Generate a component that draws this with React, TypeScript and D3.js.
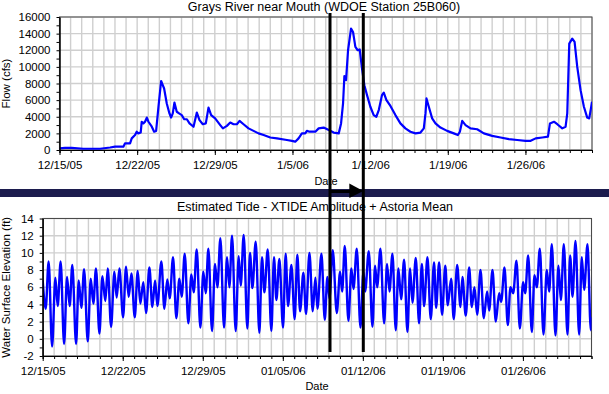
import React, { useEffect, useRef } from "react";
import * as d3 from "d3";

// ---------- data ----------
const startDate = new Date(2005, 11, 15);
const endDate = new Date(2006, 1, 1);

// Grays River flow (cfs); day offsets from 12/15/05
const flowDays = [
  0.0, 0.5, 1.1, 2.15, 3.66, 4.56, 5.01, 5.76, 5.91, 6.36, 6.51, 6.81, 6.96, 7.11, 7.32, 7.41, 7.56, 7.71,
  7.87, 8.02, 8.32, 8.53, 8.71, 8.92, 9.16, 9.31, 9.43, 9.67, 9.91, 10.06, 10.21, 10.36, 10.57, 10.78,
  11.02, 11.24, 11.48, 11.72, 12.08, 12.38, 12.62, 12.92, 13.19, 13.43, 13.67, 14.03, 14.49, 14.73,
  15.09, 15.39, 15.69, 15.99, 16.23, 16.59, 17.04, 17.49, 17.94, 18.4, 19.0, 19.6, 20.5, 20.95, 21.25,
  21.55, 21.85, 22.15, 22.3, 22.55, 23.06, 23.36, 23.81, 24.27, 24.71, 25.17, 25.38, 25.56, 25.68,
  25.83, 26.01, 26.28, 26.46, 26.67, 26.88, 27.06, 27.27, 27.48, 27.72, 28.02, 28.32, 28.56, 28.78,
  29.07, 29.23, 29.47, 29.83, 30.28, 30.73, 31.18, 31.63, 32.09, 32.54, 32.84, 32.99, 33.08, 33.29,
  33.59, 33.89, 34.34, 34.94, 35.54, 35.91, 36.09, 36.3, 36.6, 37.05, 37.65, 38.25, 39.0, 39.76,
  40.51, 41.26, 42.01, 42.47, 42.92, 43.52, 44.03, 44.21, 44.57, 44.87, 45.32, 45.62, 45.77, 45.95,
  46.22, 46.43, 46.67, 46.97, 47.27, 47.57, 47.75, 47.93, 48.0,
];
const flowValues = [
  200, 250, 250, 150, 150, 300, 400, 400, 800, 800, 1400, 1800, 2200, 2000, 2100, 3400, 3200, 3400,
  3900, 3400, 2800, 2200, 2300, 5200, 8300, 7800, 7400, 5600, 4400, 3900, 4400, 5700, 4600, 4400,
  4200, 3700, 3700, 3200, 2800, 4500, 3600, 3100, 3200, 5100, 4200, 3800, 3000, 2600,
  2900, 3300, 3100, 3100, 3500, 3100, 2600, 2300, 2000, 1800, 1500, 1400, 1200, 1100, 1000,
  1400, 2000, 2000, 2300, 2200, 2200, 2600, 2700, 2400, 2100, 2000, 3200, 5600, 8900,
  8400, 12000, 14600, 14200, 12400, 12000, 12100, 9800, 7800, 6600, 5200, 4200, 4000, 4800,
  6600, 6900, 6000, 5300, 4200, 3200, 2600, 2200, 2000, 2100, 2600, 4400, 6200, 5200,
  3800, 3200, 2700, 2300, 2000, 1800, 2200, 3500, 3000, 2600, 2500, 2000, 1700, 1500,
  1300, 1200, 1100, 1100, 1400, 1500, 1600, 3200, 3400, 3100, 2600, 2800, 4400, 12800,
  13400, 13000, 10000, 7200, 5200, 3900, 3800, 5200, 5800,
];

// Estimated tide (ft): high/low water turning points, day offsets from 12/15/05
const tideDays = [
  0.0, 0.26, 0.52, 0.82, 1.11, 1.31, 1.57, 1.87, 2.13, 2.36, 2.59, 2.92, 3.15, 3.38, 3.62, 3.94,
  4.2, 4.43, 4.66, 4.96, 5.22, 5.48, 5.69, 5.98, 6.27, 6.47, 6.71, 7.03, 7.29, 7.52, 7.76, 8.05,
  8.31, 8.54, 8.8, 9.04, 9.33, 9.59, 9.83, 10.03, 10.38, 10.64, 10.9, 11.11, 11.4, 11.69, 11.95, 12.16,
  12.42, 12.74, 13.0, 13.21, 13.47, 13.79, 14.05, 14.26, 14.49, 14.81, 15.07, 15.28, 15.54, 15.86,
  16.12, 16.33, 16.56, 16.88, 17.14, 17.32, 17.58, 17.9, 18.13, 18.34, 18.63, 18.95, 19.18, 19.39,
  19.68, 20.0, 20.23, 20.44, 20.7, 21.02, 21.25, 21.46, 21.75, 22.04, 22.27, 22.51, 22.8, 23.03,
  23.33, 23.62, 23.85, 24.03, 24.38, 24.67, 24.9, 25.08, 25.37, 25.72, 26.01, 26.19, 26.42, 26.74,
  27.0, 27.18, 27.47, 27.79, 28.05, 28.2, 28.52, 28.84, 29.07, 29.25, 29.54, 29.86, 30.12, 30.33,
  30.59, 30.88, 31.11, 31.35, 31.61, 31.9, 32.13, 32.34, 32.63, 32.92, 33.16, 33.36, 33.65, 33.94,
  34.23, 34.41, 34.67, 34.93, 35.21, 35.43, 35.72, 35.95, 36.25, 36.54, 36.71, 37.0, 37.3, 37.53,
  37.76, 38.0, 38.29, 38.58, 38.87, 39.05, 39.34, 39.63, 39.92, 40.1, 40.39, 40.68, 40.91, 41.15,
  41.44, 41.73, 42.02, 42.2, 42.46, 42.78, 43.01, 43.22, 43.48, 43.8, 44.09, 44.3, 44.53, 44.85,
  45.11, 45.32, 45.58, 45.9, 46.13, 46.34, 46.6, 46.92, 47.15, 47.36, 47.65, 47.94, 48.0,
];
const tideValues = [
  6.8, 3.5, 9.0, -0.9, 7.1, 3.8, 9.0, -0.6, 7.2, 3.8, 8.6, -0.6, 6.8, 3.6, 8.1, -0.3,
  7.0, 4.1, 8.2, 0.6, 7.3, 4.4, 8.2, 1.4, 7.8, 4.8, 8.2, 2.5, 8.4, 4.9, 7.6, 2.5,
  7.9, 4.1, 6.6, 3.0, 8.3, 3.7, 6.8, 3.8, 9.0, 3.5, 6.9, 4.7, 9.5, 2.4, 7.0, 4.9,
  9.9, 1.8, 7.5, 5.4, 10.4, 1.3, 7.8, 5.3, 10.5, 0.9, 8.7, 6.0, 11.7, 1.3,
  9.5, 6.0, 12.0, 0.9, 9.6, 6.2, 12.1, 1.2, 10.0, 5.9, 11.3, 0.7, 9.5, 5.4,
  10.4, 0.9, 9.5, 4.5, 9.3, 1.3, 9.9, 3.8, 8.6, 2.3, 9.8, 3.2, 7.7, 2.9,
  10.0, 3.2, 7.1, 3.5, 9.9, 2.2, 7.2, 4.7, 10.3, 3.0, 7.8, 5.5, 10.8, 2.1,
  8.2, 5.8, 10.5, 1.3, 7.8, 5.5, 10.2, 1.4, 8.5, 6.0, 10.5, 1.8, 8.7, 5.5,
  9.9, 1.0, 8.2, 4.6, 9.2, 0.8, 8.2, 4.2, 9.4, 1.8, 8.7, 3.8, 9.5, 2.3,
  8.9, 3.6, 8.9, 2.8, 8.5, 3.9, 7.0, 2.3, 8.6, 3.7, 7.2, 2.7, 8.3, 3.7,
  6.0, 2.8, 8.0, 2.4, 5.5, 3.3, 8.0, 2.0, 5.3, 4.3, 8.3, 1.6, 6.0, 5.3,
  9.1, 1.2, 6.6, 5.3, 9.7, 0.8, 7.4, 6.0, 10.5, 0.5, 8.0, 5.5, 11.0, 0.4,
  8.5, 4.5, 11.0, 0.5, 9.7, 4.9, 11.4, 0.5, 9.5, 5.7, 11.0, 1.0, 2.5,
];

const topTickLabels = ["12/15/05", "12/22/05", "12/29/05", "1/5/06", "1/12/06", "1/19/06", "1/26/06"];
const bottomTickLabels = ["12/15/05", "12/22/05", "12/29/05", "01/05/06", "01/12/06", "01/19/06", "01/26/06"];
const flowTicks = [0, 2000, 4000, 6000, 8000, 10000, 12000, 14000, 16000];
const flowMinorTicks = [1000, 3000, 5000, 7000, 9000, 11000, 13000, 15000];
const tideTicks = [-2, 0, 2, 4, 6, 8, 10, 12, 14];
const tideMinorTicks = [-1, 1, 3, 5, 7, 9, 11, 13];

// ---------- drawing ----------
const W = 609;
const H = 394;
const FONT = "'Liberation Sans', Arial, Helvetica, sans-serif";

const dayToDate = (d: number) => new Date(startDate.getTime() + d * 86400000);

type Panel = {
  id: string;
  left: number; right: number; top: number; bottom: number;
  yDomain: [number, number];
  yTicks: number[]; yMinor: number[];
  xLabels: string[];
  days: number[]; values: number[];
  title: string; titleX: number; titleY: number;
  yLabel: string; yLabelX: number;
  xLabel: string; xLabelX: number; xLabelY: number;
  strokeWidth: number;
  smooth: boolean;
};

function drawPanel(svg: any, p: Panel) {
  const x = d3.scaleTime().domain([startDate, endDate]).range([p.left, p.right]);
  const y = d3.scaleLinear().domain(p.yDomain).range([p.bottom, p.top]);
  const g = svg.append("g");
  const weekly = p.xLabels.map((_, i) => d3.timeDay.offset(startDate, 7 * i));
  const daily = d3.timeDay.range(startDate, d3.timeDay.offset(endDate, 1));

  // grid
  const grid = g.append("g").attr("stroke", "#cfcfcf").attr("stroke-width", 1.4);
  grid.selectAll("line.v").data(daily).join("line")
    .attr("x1", (d: Date) => x(d)).attr("x2", (d: Date) => x(d))
    .attr("y1", p.top).attr("y2", p.bottom);
  grid.selectAll("line.h").data(p.yTicks).join("line")
    .attr("x1", p.left).attr("x2", p.right)
    .attr("y1", (d: number) => y(d)).attr("y2", (d: number) => y(d));

  // frame
  g.append("rect").attr("x", p.left).attr("y", p.top)
    .attr("width", p.right - p.left).attr("height", p.bottom - p.top)
    .attr("fill", "none").attr("stroke", "#4a4a4a").attr("stroke-width", 1);

  // data line
  g.append("clipPath").attr("id", p.id + "clip").append("rect")
    .attr("x", p.left).attr("y", p.top - 2).attr("width", p.right - p.left).attr("height", p.bottom - p.top + 4);
  const pts = p.days.map((d, i) => [dayToDate(d), p.values[i]] as [Date, number]);
  const line = d3.line<[Date, number]>()
    .x((d) => x(d[0])).y((d) => y(d[1]))
    .curve(p.smooth ? d3.curveMonotoneX : d3.curveLinear);
  g.append("path").datum(pts).attr("d", line)
    .attr("clip-path", `url(#${p.id}clip)`)
    .attr("fill", "none").attr("stroke", "#0000ff")
    .attr("stroke-width", p.strokeWidth).attr("stroke-linejoin", "round");

  const styleAxis = (a: any) => {
    a.selectAll("path.domain").attr("stroke", "#000");
    a.selectAll("line").attr("stroke", "#000");
    a.selectAll("text").attr("font-family", FONT).attr("font-size", 11.5).attr("fill", "#000");
  };

  // x axis
  const xMinor = g.append("g").attr("transform", `translate(0,${p.bottom})`)
    .call(d3.axisBottom(x).tickValues(daily).tickSize(3).tickFormat(() => ""));
  styleAxis(xMinor);
  const xMajor = g.append("g").attr("transform", `translate(0,${p.bottom})`)
    .call(d3.axisBottom(x).tickValues(weekly).tickSize(5).tickSizeOuter(0).tickPadding(6)
      .tickFormat((_d: any, i: number) => p.xLabels[i]));
  styleAxis(xMajor);

  // y axis
  const yMinorAx = g.append("g").attr("transform", `translate(${p.left},0)`)
    .call(d3.axisLeft(y).tickValues(p.yMinor).tickSize(3).tickSizeOuter(0).tickFormat(() => ""));
  styleAxis(yMinorAx);
  const yMajorAx = g.append("g").attr("transform", `translate(${p.left},0)`)
    .call(d3.axisLeft(y).tickValues(p.yTicks).tickSize(3).tickSizeOuter(0).tickPadding(6)
      .tickFormat((d: any) => String(d)));
  styleAxis(yMajorAx);

  // labels
  g.append("text").attr("x", p.titleX).attr("y", p.titleY).attr("text-anchor", "middle")
    .attr("font-family", FONT).attr("font-size", 12.5).text(p.title);
  g.append("text")
    .attr("transform", `translate(${p.yLabelX},${(p.top + p.bottom) / 2}) rotate(-90)`)
    .attr("text-anchor", "middle").attr("font-family", FONT).attr("font-size", 11.5)
    .text(p.yLabel);
  g.append("text").attr("x", p.xLabelX).attr("y", p.xLabelY).attr("text-anchor", "middle")
    .attr("font-family", FONT).attr("font-size", 11).text(p.xLabel);
}

export default function App() {
  const ref = useRef<SVGSVGElement>(null);
  useEffect(() => {
    const svg = d3.select(ref.current);
    svg.selectAll("*").remove();
    svg.append("rect").attr("width", W).attr("height", H).attr("fill", "#fff");

    drawPanel(svg, {
      id: "flow", left: 59.5, right: 592, top: 17, bottom: 150,
      yDomain: [0, 16000], yTicks: flowTicks, yMinor: flowMinorTicks,
      xLabels: topTickLabels, days: flowDays, values: flowValues,
      title: "Grays River near Mouth (WDOE Station 25B060)", titleX: 324, titleY: 11,
      yLabel: "Flow (cfs)", yLabelX: 10,
      xLabel: "Date", xLabelX: 326, xLabelY: 185,
      strokeWidth: 2.2, smooth: false,
    });

    drawPanel(svg, {
      id: "tide", left: 42.7, right: 591.5, top: 218.5, bottom: 356,
      yDomain: [-2, 14], yTicks: tideTicks, yMinor: tideMinorTicks,
      xLabels: bottomTickLabels, days: tideDays, values: tideValues,
      title: "Estimated Tide - XTIDE Amplitude + Astoria Mean", titleX: 315, titleY: 211,
      yLabel: "Water Surface Elevation (ft)", yLabelX: 10,
      xLabel: "Date", xLabelX: 317, xLabelY: 390,
      strokeWidth: 2.4, smooth: true,
    });

    // overlay: band, window lines and arrow
    const ov = svg.append("g");
    ov.append("rect").attr("x", 0).attr("y", 189).attr("width", W).attr("height", 8).attr("fill", "#1c1c4e");
    const winStart = 330;
    const winEnd = 363.3;
    [winStart, winEnd].forEach((xx) => {
      ov.append("line").attr("x1", xx).attr("x2", xx).attr("y1", 13).attr("y2", 352)
        .attr("stroke", "#000").attr("stroke-width", 3);
    });
    ov.append("line").attr("x1", winStart).attr("x2", winEnd - 12).attr("y1", 191.5).attr("y2", 191.5)
      .attr("stroke", "#000").attr("stroke-width", 3);
    ov.append("path")
      .attr("d", d3.line()([[winEnd - 14, 183.5], [winEnd, 191], [winEnd - 14, 198]]) + "Z")
      .attr("fill", "#000");
  }, []);
  return (
    <svg ref={ref} width={W} height={H}
      style={{ position: "absolute", left: 0, top: 0, display: "block" }} />
  );
}
